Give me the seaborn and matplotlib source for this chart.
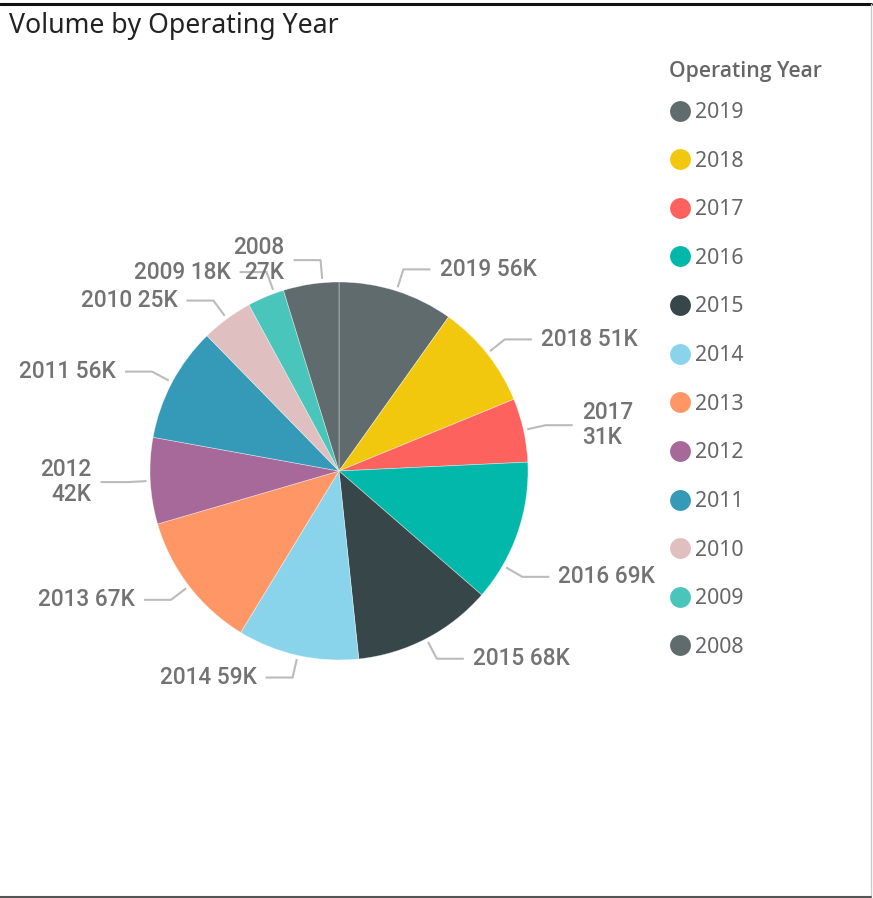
import numpy as np
import matplotlib
matplotlib.use("Agg")
import matplotlib.pyplot as plt
from matplotlib.lines import Line2D
import seaborn as sns

# data (volume in thousands)
years = ["2019", "2018", "2017", "2016", "2015", "2014",
         "2013", "2012", "2011", "2010", "2009", "2008"]
volume_k = [56, 51, 31, 69, 68, 59, 67, 42, 56, 25, 18, 27]
colors = ["#5F6B6D", "#F2C80F", "#FD625E", "#01B8AA", "#374649", "#8AD4EB",
          "#FE9666", "#A66999", "#3599B8", "#DFBFBF", "#4AC5BB", "#5F6B6D"]

# labels that wrap onto two lines, and leader angles (deg clockwise from top)
# where the labels got nudged away from the slice middle
two_line = {"2017", "2012", "2008"}
angle_override = {"2016": 120, "2009": 340, "2008": 355}

sns.set_style("white")
plt.rcParams["font.family"] = ["Roboto", "DejaVu Sans"]

W, H = 873, 898
fig = plt.figure(figsize=(W / 100, H / 100), dpi=100)

cx, cy, R = 339, 471, 189
ax = fig.add_axes([(cx - R) / W, (H - cy - R) / H, 2 * R / W, 2 * R / H])
wedges, _ = ax.pie(volume_k, colors=colors, startangle=90, counterclock=False,
                   wedgeprops=dict(linewidth=0.5, edgecolor="#FFFFFF80"))
ax.set_xlim(-1, 1)
ax.set_ylim(-1, 1)
ax.set_aspect("equal")

line_c = "#BBBBBB"
text_c = "#737373"
for w, yr, v in zip(wedges, years, volume_k):
    if yr in angle_override:
        t = np.deg2rad(90 - angle_override[yr])
    else:
        t = np.deg2rad((w.theta1 + w.theta2) / 2)
    ux, uy = np.cos(t), np.sin(t)
    sx, sy = 1.02 * ux, 1.02 * uy
    ex, ey = 1.12 * ux, 1.12 * uy
    side = 1 if ux >= 0 else -1
    hx = ex + side * 0.143
    ax.plot([sx, ex, hx], [sy, ey, ey], color=line_c, lw=1.5,
            clip_on=False, solid_capstyle="butt")
    sep = "\n" if yr in two_line else " "
    ax.text(hx + side * 0.048, ey, f"{yr}{sep}{v}K",
            ha="left" if side > 0 else "right", va="center",
            multialignment="left" if side > 0 else "right",
            fontsize=16.3, fontweight="medium", color=text_c,
            clip_on=False, linespacing=1.12)

# title
fig.text(9 / W, 1 - 26 / H, "Volume by Operating Year", fontsize=19.2,
         color="#222222", va="center", ha="left", family=["Noto Sans", "DejaVu Sans"])

# legend
fig.text(669 / W, 1 - 71 / H, "Operating Year", fontsize=15.2, fontweight="semibold",
         color="#666666", va="center", ha="left", family=["Open Sans", "DejaVu Sans"])
handles = [Line2D([], [], marker="o", linestyle="", markersize=15,
                  markerfacecolor=c, markeredgewidth=0) for c in colors]
leg = fig.legend(handles, years, loc="upper left",
                 bbox_to_anchor=(669.5 / W, 1 - 102 / H), frameon=False,
                 borderpad=0, borderaxespad=0, handlelength=1.0,
                 handletextpad=0.22, labelspacing=1.30,
                 prop={"family": ["Noto Sans", "DejaVu Sans"], "size": 15.3})
for t in leg.get_texts():
    t.set_color("#666666")

# visual border
fig.add_artist(Line2D([0, 871 / W], [1 - 3.5 / H] * 2, transform=fig.transFigure,
                      color="#111111", lw=2.2))
fig.add_artist(Line2D([870.5 / W] * 2, [1 - 4 / H, 1 - 896 / H],
                      transform=fig.transFigure, color="#CCCCCC", lw=1))
fig.add_artist(Line2D([0, 871 / W], [1 - 896.5 / H] * 2, transform=fig.transFigure,
                      color="#555555", lw=1.5))

fig.savefig("out.png", dpi=100)
